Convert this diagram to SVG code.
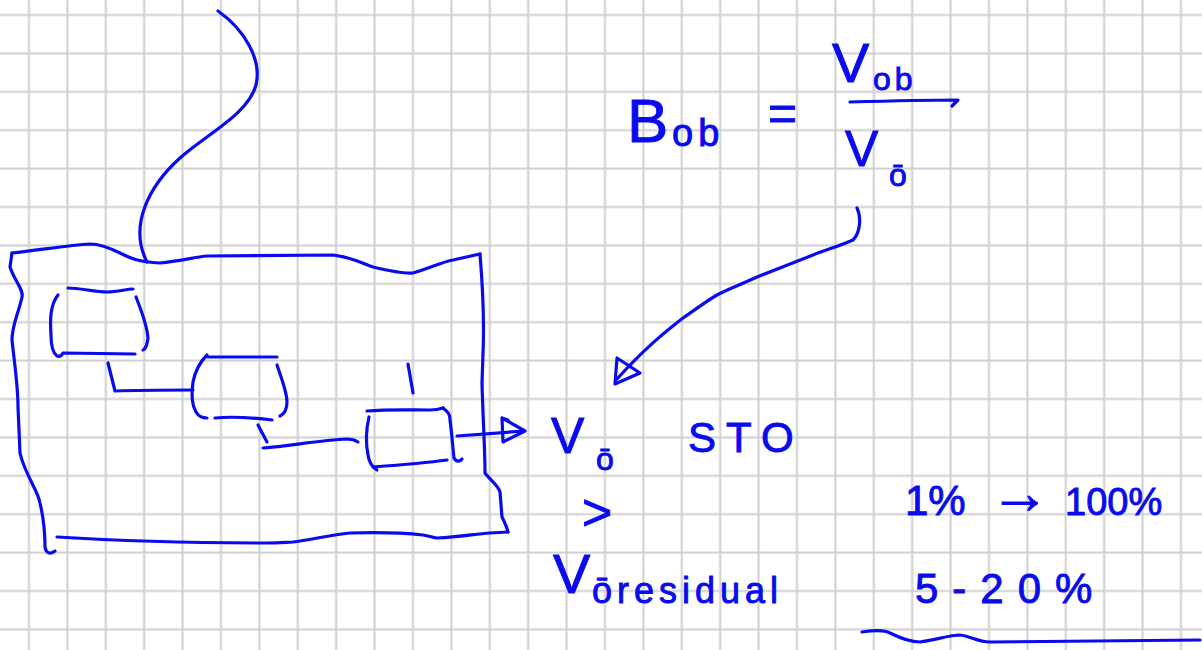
<svg xmlns="http://www.w3.org/2000/svg" width="1202" height="650" viewBox="0 0 1202 650">
<defs>
<pattern id="grid" patternUnits="userSpaceOnUse" x="9.8" y="-4.2" width="38.4" height="38.4">
<path d="M19.2,0 V38.4 M0,19.2 H38.4" stroke="#cfcfcf" stroke-width="2" fill="none"/>
</pattern>
<style>
.ink{fill:none;stroke:#0a0aee;stroke-width:3.2;stroke-linecap:round;stroke-linejoin:round}
.t{fill:#0a0aee;stroke:#0a0aee;stroke-width:0.9;font-family:"Liberation Sans","DejaVu Sans",sans-serif}
</style>
</defs>
<rect width="1202" height="650" fill="#ffffff"/>
<rect width="1202" height="650" fill="url(#grid)"/>

<g id="board">
<path class="ink" d="M12,253 C40,250 70,245 90,244 C100,244 110,248 120,253 C130,258 138,262 160,263 C180,261 195,257 207,256 L333,255 C350,257 362,263 373,267 C390,271 405,274 413,273 C430,268 442,262 453,260 L480,254"/>
<path class="ink" d="M12,253 L10,267 C14,280 24,290 22,297 C18,315 12,325 12,340 C14,360 18,385 18,407 L20,453 C25,475 38,490 40,503 C44,520 45,535 45,547 C46,553 50,555 55,551"/>
<path class="ink" d="M480,254 C483,290 484,330 483,353 L482,383 C483,420 485,450 485,473 C490,480 498,485 500,492 L502,517 C505,523 507,528 508,532"/>
<path class="ink" d="M57,537 C120,541 200,543 267,543 C280,543 288,542 293,542 C310,540 330,535 350,533 C380,532 405,533 423,535 C430,536 433,538 437,538 C460,537 475,534 490,533 L508,532"/>
</g>

<g id="block1">
<path class="ink" d="M68,288 C80,288 95,292 107,292 C118,292 126,289 133,289"/>
<path class="ink" d="M58,295 C50,305 50,320 51,335 C51,345 53,353 57,356 C60,357 62,355 63,353 L135,354"/>
<path class="ink" d="M136,297 C142,312 147,325 148,338 C147,345 146,349 143,350"/>
</g>

<g id="block2">
<path class="ink" d="M208,357 L277,357"/>
<path class="ink" d="M207,355 C200,362 195,372 193,382 C191,395 192,405 196,412 C199,417 203,418 207,418"/>
<path class="ink" d="M277,365 C282,380 287,392 287,402 C287,410 284,414 280,416"/>
<path class="ink" d="M215,418 C235,416 255,418 272,420"/>
</g>

<g id="block3">
<path class="ink" d="M367,411 C390,409 410,410 430,410 C437,410 440,409 443,408"/>
<path class="ink" d="M369,417 C366,430 366,445 368,455 C369,462 372,467 377,470"/>
<path class="ink" d="M373,467 C400,465 425,463 447,460"/>
<path class="ink" d="M443,408 C448,412 450,414 450,420 C452,435 453,450 454,458 C456,462 460,462 462,459"/>
<path class="ink" d="M408,364 L413,393"/>
</g>

<g id="connectors">
<path class="ink" d="M218,11 C245,30 262,60 256,85 C248,115 205,135 180,158 C150,185 128,225 147,262"/>
<path class="ink" d="M108,363 L115,391 C140,390 165,390 193,390"/>
<path class="ink" d="M258,425 L267,442"/>
<path class="ink" d="M263,448 C290,446 320,440 347,439 C352,439 355,440 358,442"/>
<path class="ink" d="M457,436 L524,431"/>
<path class="ink" d="M502,418 L503,442 L525,431 Z M502,418 L508,420"/>
<path class="ink" d="M857,208 C861,216 861,232 853,240 C840,246 825,250 813,255 C795,262 775,270 757,277 C740,285 728,289 717,295 C705,302 695,310 683,318 C665,332 645,348 617,379"/>
<path class="ink" d="M617,358 L615,384 L640,373 Z"/>
</g>

<g id="formula">
<text class="t" x="627" y="142" font-size="62">B</text>
<text class="t" x="672" y="146" font-size="38" letter-spacing="5">ob</text>
<text class="t" x="768" y="130" font-size="50">=</text>
<text class="t" x="832" y="82" font-size="56">V</text>
<text class="t" x="873" y="90" font-size="32" letter-spacing="4">ob</text>
<path class="ink" d="M850,102 C885,101 920,100 958,100 L952,106"/>
<text class="t" x="845" y="166" font-size="50">V</text>
<text class="t" x="889" y="186" font-size="32">ō</text>
</g>

<g id="labels">
<text class="t" x="551" y="453" font-size="50">V</text>
<text class="t" x="596" y="470" font-size="32">ō</text>
<text class="t" x="688" y="452" font-size="42" letter-spacing="10">STO</text>
<text class="t" x="582" y="530" font-size="52">&gt;</text>
<text class="t" x="553" y="593" font-size="56">V</text>
<text class="t" x="592" y="603" font-size="36" letter-spacing="5">ōresidual</text>
<text class="t" x="905" y="515" font-size="42">1%</text>
<text class="t" x="990" y="513" font-size="60">→</text>
<text class="t" x="1065" y="515" font-size="38">100%</text>
<text class="t" x="915" y="603" font-size="42" letter-spacing="14">5-20%</text>
<path class="ink" d="M862,632 C875,630 885,630 890,633 C900,638 910,642 920,642 C935,640 950,635 960,635 C970,636 978,642 990,642 L1200,640"/>
</g>
</svg>
